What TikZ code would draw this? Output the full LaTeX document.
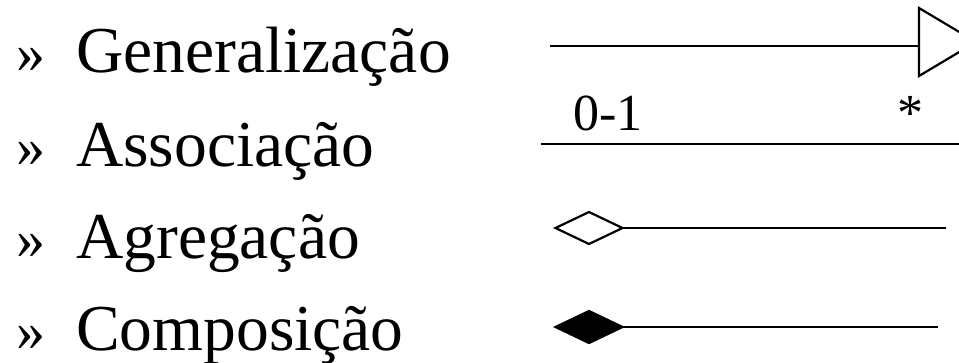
\documentclass[tikz,border=0pt]{standalone}
\usepackage{fontspec}
\setmainfont{Liberation Serif}
\usetikzlibrary{shapes.geometric}
\begin{document}
\begin{tikzpicture}[x=1pt,y=-1pt,
  item/.style={anchor=base west,inner sep=0pt,font=\fontsize{65.5}{65.5}\selectfont},
  bullet/.style={anchor=base west,inner sep=0pt,font=\fontsize{58}{58}\selectfont},
  mult/.style={anchor=base west,inner sep=0pt,font=\fontsize{52}{52}\selectfont},
  link/.style={line width=2.6pt},
  head/.style={line width=2.2pt,line join=miter},
  dmd/.style={diamond,draw,head,inner sep=0pt,outer sep=0pt,
    minimum width=67pt,minimum height=32pt}]
  \useasboundingbox (0,0) rectangle (959,362);

  % bullet list of relationship kinds
  \node[bullet] (b1) at (16,72) {»};
  \node[item] (t1) at (76,72) {Generalização};
  \node[bullet] (b2) at (16,166) {»};
  \node[item] (t2) at (76,166) {Associação};
  \node[bullet] (b3) at (16,258) {»};
  \node[item] (t3) at (76,258) {Agregação};
  \node[bullet] (b4) at (16,350) {»};
  \node[item] (t4) at (76,350) {Composição};

  % generalization: line ending in a hollow triangle
  \coordinate (g0) at (550,46);
  \coordinate (gt) at (919,8);
  \coordinate (gb) at (919,76);
  \coordinate (gp) at (976,42);
  \draw[head] (gt) -- (gp) -- (gb) -- cycle;
  \draw[link] (g0) -- (g0 -| gt);

  % association with multiplicities
  \coordinate (a0) at (541,144);
  \coordinate (a1) at (965,144);
  \draw[link] (a0) -- (a1);
  \node[mult] (m1) at (573,130) {0-1};
  \node[mult] (m2) at (897,130) {*};

  % aggregation: hollow diamond
  \node[dmd] (r0) at (589,228) {};
  \coordinate (r1) at (946,228);
  \draw[link] (r0.east) -- (r1);

  % composition: filled diamond
  \node[dmd,fill=black] (c0) at (589,327) {};
  \coordinate (c1) at (938,327);
  \draw[link] (c0.east) -- (c1);
\end{tikzpicture}
\end{document}
